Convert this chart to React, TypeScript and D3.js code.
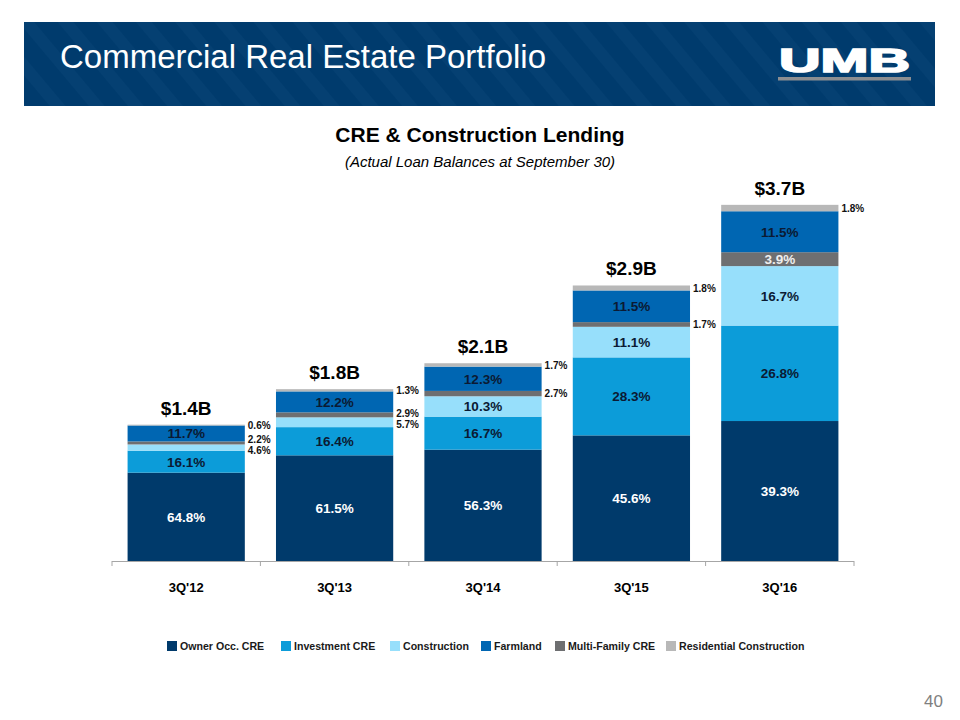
import React from 'react';
import * as d3 from 'd3';

const categories = ["3Q'12", "3Q'13", "3Q'14", "3Q'15", "3Q'16"];
const totals = [1.42, 1.79, 2.06, 2.87, 3.71];
const totalLabels = ['$1.4B', '$1.8B', '$2.1B', '$2.9B', '$3.7B'];
const ownerOcc = [64.8, 61.5, 56.3, 45.6, 39.3];
const investment = [16.1, 16.4, 16.7, 28.3, 26.8];
const construction = [4.6, 5.7, 10.3, 11.1, 16.7];
const multiFamily = [2.2, 2.9, 2.7, 1.7, 3.9];
const farmland = [11.7, 12.2, 12.3, 11.5, 11.5];
const residential = [0.6, 1.3, 1.7, 1.8, 1.8];

const stackKeys = ['owner', 'investment', 'construction', 'multi', 'farmland', 'residential'];
const seriesPct: Record<string, number[]> = {
  owner: ownerOcc,
  investment,
  construction,
  multi: multiFamily,
  farmland,
  residential,
};
const seriesName: Record<string, string> = {
  owner: 'Owner Occ. CRE',
  investment: 'Investment CRE',
  construction: 'Construction',
  farmland: 'Farmland',
  multi: 'Multi-Family CRE',
  residential: 'Residential Construction',
};
const legendOrder = ['owner', 'investment', 'construction', 'farmland', 'multi', 'residential'];
const legendX = [167, 281, 390, 481, 555, 666];

const colors: Record<string, string> = {
  owner: '#003a6b',
  investment: '#0c9cd9',
  construction: '#97dffb',
  multi: '#6e6f71',
  farmland: '#0066b2',
  residential: '#b8b8b8',
};
const insideText: Record<string, string> = {
  owner: '#ffffff',
  investment: '#0b1a33',
  construction: '#0b1a33',
  multi: '#eeeeee',
  farmland: '#0b1a33',
  residential: '#0b1a33',
};

const FONT = "'Liberation Sans', Arial, sans-serif";

export default function App() {
  const base = 561;
  const x = d3.scaleBand<string>().domain(categories).range([112, 854]).paddingInner(0.21).paddingOuter(0.105);
  const y = d3.scaleLinear().domain([0, 4]).range([base, base - 4 * 96]);

  const rows = categories.map((c, i) => {
    const r: any = { cat: c };
    stackKeys.forEach((k) => (r[k] = (seriesPct[k][i] / 100) * totals[i]));
    return r;
  });
  const stacked = d3.stack<any>().keys(stackKeys)(rows);

  const outside: { x: number; y: number; text: string; key: string }[][] = categories.map(() => []);
  const inside: { x: number; y: number; text: string; key: string }[] = [];
  stacked.forEach((s) => {
    s.forEach((d, i) => {
      const y0 = y(d[0]);
      const y1 = y(d[1]);
      const h = y0 - y1;
      const pct = seriesPct[s.key][i];
      const label = pct.toFixed(1) + '%';
      if (h >= 12) {
        inside.push({ x: (x(categories[i]) as number) + x.bandwidth() / 2, y: (y0 + y1) / 2, text: label, key: s.key });
      } else {
        outside[i].push({ x: (x(categories[i]) as number) + x.bandwidth() + 3, y: (y0 + y1) / 2, text: label, key: s.key });
      }
    });
  });
  outside.forEach((arr) => {
    arr.sort((a, b) => a.y - b.y);
    for (let it = 0; it < 20; it++) {
      for (let j = 0; j < arr.length - 1; j++) {
        const gap = arr[j + 1].y - arr[j].y;
        if (gap < 11) {
          const d = (11 - gap) / 2;
          arr[j].y -= d;
          arr[j + 1].y += d;
        }
      }
    }
  });

  const boundaries = [112, ...categories.map((c) => (x(c) as number) + x.bandwidth() + (x.step() - x.bandwidth()) / 2)];

  return (
    <div style={{ position: 'fixed', left: 0, top: 0 }}>
      <svg width={960} height={720} style={{ display: 'block', background: '#ffffff', fontFamily: FONT }}>
        <defs>
          <pattern id="stripes" width="30" height="30" patternUnits="userSpaceOnUse" patternTransform="rotate(-40)">
            <rect width="30" height="30" fill="#003b6d" />
            <rect width="12" height="30" fill="#0a4677" opacity="0.45" />
          </pattern>
        </defs>
        {/* header */}
        <rect x={24} y={22} width={911} height={84} fill="url(#stripes)" />
        <text x={60} y={68} fill="#ffffff" fontSize={33} fontFamily={FONT}>
          Commercial Real Estate Portfolio
        </text>
        <text
          x={779}
          y={72}
          fill="#ffffff"
          stroke="#ffffff"
          strokeWidth={1.6}
          fontSize={33}
          fontWeight="bold"
          textLength={131}
          lengthAdjust="spacingAndGlyphs"
          fontFamily={FONT}
        >
          UMB
        </text>
        <rect x={778} y={77} width={133} height={3.5} fill="#8c8e91" />

        {/* chart titles */}
        <text x={480} y={142} textAnchor="middle" fontSize={21} fontWeight="bold" fill="#000">
          CRE &amp; Construction Lending
        </text>
        <text x={480} y={167} textAnchor="middle" fontSize={15} fontStyle="italic" fill="#000">
          (Actual Loan Balances at September 30)
        </text>

        {/* bars */}
        {stacked.map((s) => (
          <g key={s.key}>
            {s.map((d, i) => (
              <rect
                key={i}
                x={x(categories[i])}
                y={y(d[1])}
                width={x.bandwidth()}
                height={Math.max(0, y(d[0]) - y(d[1]))}
                fill={colors[s.key]}
              />
            ))}
          </g>
        ))}

        {inside.map((l, i) => (
          <text key={i} x={l.x} y={l.y} dy="0.36em" textAnchor="middle" fontSize={13.5} fontWeight="bold" fill={insideText[l.key]}>
            {l.text}
          </text>
        ))}
        {outside.flat().map((l, i) => (
          <text key={i} x={l.x} y={l.y} dy="0.36em" fontSize={10} fontWeight="bold" fill="#111">
            {l.text}
          </text>
        ))}
        {categories.map((c, i) => (
          <text key={c} x={(x(c) as number) + x.bandwidth() / 2} y={y(totals[i]) - 10} textAnchor="middle" fontSize={19} fontWeight="bold" fill="#000">
            {totalLabels[i]}
          </text>
        ))}

        {/* axis */}
        <line x1={112} x2={854} y1={base + 0.5} y2={base + 0.5} stroke="#a6a6a6" strokeWidth={1} />
        {boundaries.map((b, i) => (
          <line key={i} x1={b} x2={b} y1={base} y2={base + 5} stroke="#a6a6a6" strokeWidth={1} />
        ))}
        {categories.map((c) => (
          <text key={c} x={(x(c) as number) + x.bandwidth() / 2} y={592} textAnchor="middle" fontSize={13} fontWeight="bold" fill="#000">
            {c}
          </text>
        ))}

        {/* legend */}
        {legendOrder.map((k, i) => (
          <g key={k}>
            <rect x={legendX[i]} y={641} width={10} height={10} fill={colors[k]} />
            <text x={legendX[i] + 13} y={650} fontSize={10.6} fontWeight="bold" fill="#1a1a1a">
              {seriesName[k]}
            </text>
          </g>
        ))}

        <text x={943} y={707} textAnchor="end" fontSize={17} fill="#7f7f7f">
          40
        </text>
      </svg>
    </div>
  );
}
